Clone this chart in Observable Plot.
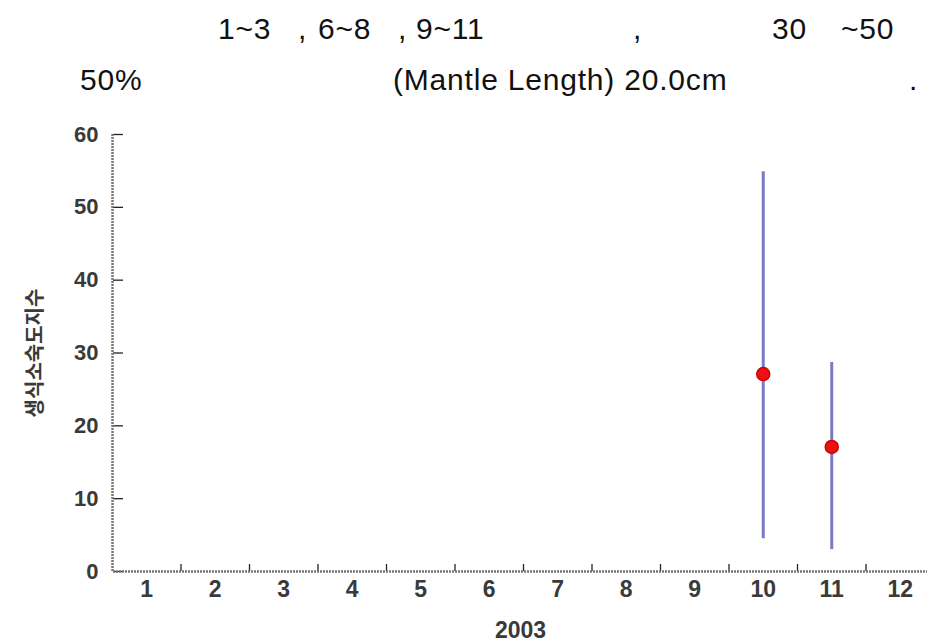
<!DOCTYPE html>
<html>
<head>
<meta charset="utf-8">
<script src="https://cdn.jsdelivr.net/npm/d3@7"></script>
<script src="https://cdn.jsdelivr.net/npm/@observablehq/plot@0.6"></script>
<style>
  html, body { margin: 0; padding: 0; background: #fff; }
  #wrap { position: relative; width: 927px; height: 642px; overflow: hidden; }
  #head { position: relative; height: 100px; font-family: "Liberation Sans", Arial, sans-serif; font-size: 30px; letter-spacing: 0.8px; color: #111; }
  #head span { position: absolute; white-space: pre; line-height: 1; }
  #chart svg { display: block; }
</style>
</head>
<body>
<div id="wrap">
  <div id="head"></div>
  <div id="chart"></div>
</div>
<script>
// Header text fragments (Korean glyphs missing in the original rendering)
const headerLines = [
  ["1~3", ",", "6~8", ",", "9~11", ",", "30", "~50"],
  ["50%", "(Mantle Length) 20.0cm", "."]
];

// Data
const months = [1, 2, 3, 4, 5, 6, 7, 8, 9, 10, 11, 12];
const obsMonths = [10, 11];
const meanGSI = [27.1, 17.1];
const lowGSI = [4.5, 3.0];
const highGSI = [54.9, 28.7];
const yTicks = [0, 10, 20, 30, 40, 50, 60];
const xLabel = "2003";
const yLabel = "생식소숙도지수";

// header layout
const head = document.getElementById("head");
const headX = [[218, 298, 318, 398, 416, 633, 772, 841], [80, 393, 909]];
const headTop = [14, 65];
headerLines.forEach((line, i) => line.forEach((t, j) => {
  const s = document.createElement("span");
  s.textContent = t;
  s.style.left = headX[i][j] + "px";
  s.style.top = headTop[i] + "px";
  head.appendChild(s);
}));

const data = obsMonths.map((m, i) => ({month: m, mean: meanGSI[i], low: lowGSI[i], high: highGSI[i]}));
const boundaries = months.slice(0, -1).map(m => m + 0.5);

const chart = Plot.plot({
  width: 927,
  height: 542,
  marginTop: 34,
  marginBottom: 71,
  marginLeft: 113,
  marginRight: 0,
  style: {fontFamily: "'Liberation Sans', Arial, sans-serif", fontSize: "23px", color: "#333", background: "#fff"},
  x: {type: "linear", domain: [0.5, 12.5], range: [112, 934]},
  y: {domain: [0, 60]},
  marks: [
    // tick labels
    Plot.axisX(months, {tickSize: 0, tickPadding: 9, fontWeight: "bold", fill: "#3a3a3a", fontSize: 23,
      label: xLabel, labelAnchor: "center", labelOffset: 66, labelArrow: "none"}),
    Plot.axisX(boundaries, {tickSize: -7, text: null, stroke: "#222", strokeWidth: 1.3, label: null}),
    Plot.axisY(yTicks, {tickSize: 0, tickPadding: 15, fontWeight: "bold", fill: "#3a3a3a", fontSize: 22,
      label: yLabel, labelAnchor: "center", labelOffset: 86, labelArrow: "none"}),
    Plot.axisY(yTicks, {tickSize: -10, text: null, stroke: "#222", strokeWidth: 1.3, label: null}),
    // axis lines
    Plot.ruleY([0], {stroke: "#777", strokeWidth: 2.5, strokeDasharray: "2,1"}),
    Plot.ruleX([0.5], {y1: 0, y2: 60, stroke: "#777", strokeWidth: 2.5, strokeDasharray: "2,1"}),
    // error bars
    Plot.ruleX(data, {x: "month", y1: "low", y2: "high", stroke: "#7a7ac6", strokeWidth: 3}),
    // mean points
    Plot.dot(data, {x: "month", y: "mean", r: 6.5, fill: "#ee1111", stroke: "#cc0000", strokeWidth: 1.5})
  ]
});
document.getElementById("chart").appendChild(chart);

// style axis labels
chart.querySelectorAll("[aria-label='x-axis label'] text").forEach(t => {
  t.setAttribute("font-weight", "bold");
  t.setAttribute("fill", "#3a3a3a");
  t.style.fontSize = "23px";
});
chart.querySelectorAll("[aria-label='y-axis label'] text").forEach(t => {
  t.setAttribute("font-weight", "bold");
  t.setAttribute("fill", "#3a3a3a");
  t.style.fontSize = "20px";
  t.style.fontFamily = "'Noto Sans CJK KR', sans-serif";
});
</script>
</body>
</html>
